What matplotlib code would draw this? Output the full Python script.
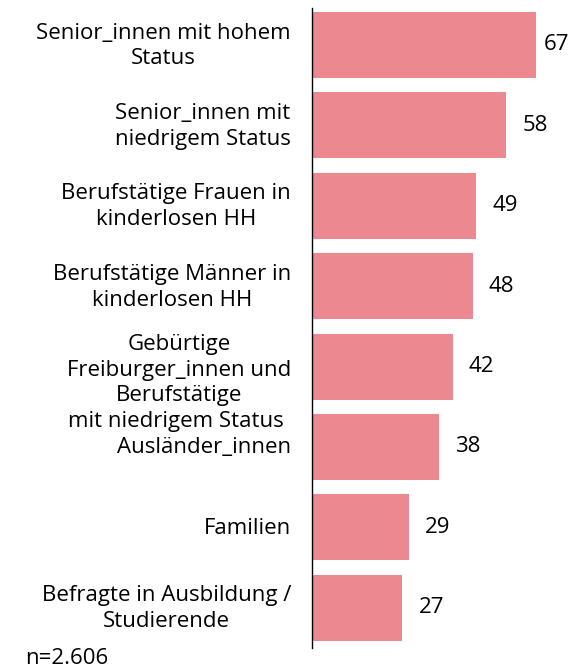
import matplotlib
matplotlib.use("Agg")
import matplotlib.pyplot as plt
import matplotlib.transforms as mtransforms

# Daten
gruppen = [
    "Senior_innen mit hohem\nStatus",
    "Senior_innen mit\nniedrigem Status",
    "Berufstätige Frauen in\nkinderlosen HH",
    "Berufstätige Männer in\nkinderlosen HH",
    "Gebürtige\nFreiburger_innen und\nBerufstätige\nmit niedrigem Status ",
    "Ausländer_innen",
    "Familien",
    "Befragte in Ausbildung /\nStudierende",
]
werte = [67, 58, 49, 48, 42, 38, 29, 27]
fallzahl = "n=2.606"

farbe = "#EC888F"
plt.rcParams["font.family"] = ["Open Sans", "DejaVu Sans"]
schrift = 16

fig = plt.figure(figsize=(5.8, 6.7), dpi=100)
ax = fig.add_axes([312 / 580, 22 / 670, 268 / 580, 640 / 670])

pos = list(range(len(werte)))
ax.barh(pos, werte, height=0.82, color=farbe)
ax.set_xlim(0, 80)
ax.set_ylim(7.5, -0.46)

for s in ["top", "right", "bottom"]:
    ax.spines[s].set_visible(False)
ax.spines["left"].set_linewidth(1.0)
ax.set_xticks([])
ax.set_yticks([])

# Beschriftungen links, zentriert mehrzeilig
trans_lab = mtransforms.offset_copy(ax.get_yaxis_transform(), fig=fig, x=-21, y=-1, units="dots")
for i, (g, w) in enumerate(zip(gruppen, werte)):
    y = i + (0.19 if g.count("\n") == 3 else 0)
    ax.text(0, y, g, transform=trans_lab, ha="right", va="center",
            multialignment="center", fontsize=schrift, linespacing=1.29)

# Werte rechts neben den Balken
trans_val = mtransforms.offset_copy(ax.transData, fig=fig, x=16, y=0, units="dots")
for i, w in enumerate(werte):
    ax.text(min(w, 64.5), i, str(w), transform=trans_val, ha="left", va="center",
            fontsize=schrift)

fig.text(25 / 580, 1 - 658 / 670, fallzahl, ha="left", va="center", fontsize=schrift)

fig.savefig("out.png", dpi=100)
